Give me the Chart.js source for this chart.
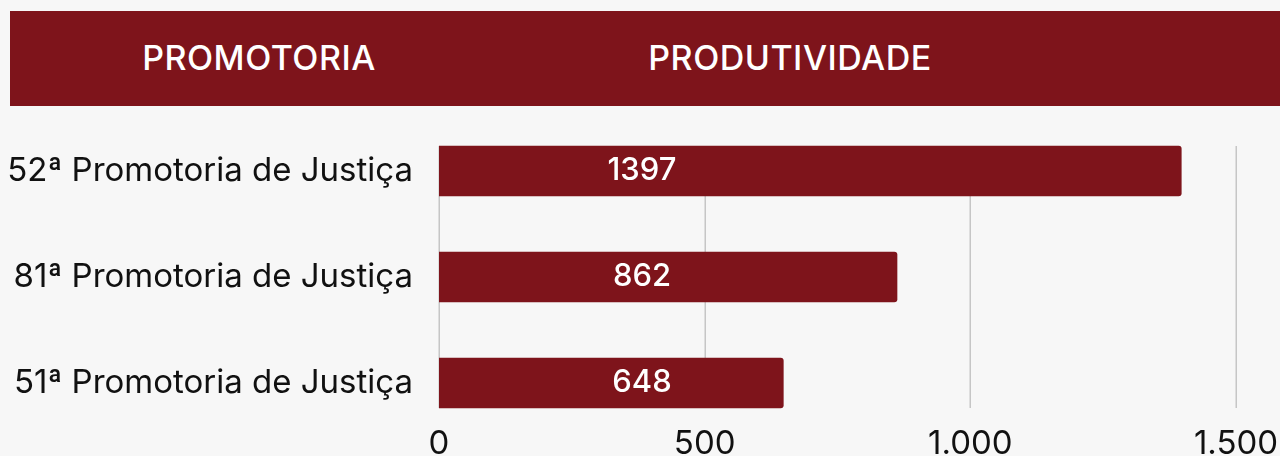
<!DOCTYPE html>
<html>
<head>
<meta charset="utf-8">
<script src="https://cdn.jsdelivr.net/npm/chart.js@4"></script>
<style>
  html, body { margin:0; padding:0; background:#f7f7f7; width:1280px; height:456px; overflow:hidden; }
  #header { position:absolute; left:10px; top:11px; width:1270px; height:95px; background:#7e141b; }
  #header span { position:absolute; top:46px; transform:translate(-50%,-50%); color:#fff; font-family:Inter, sans-serif; font-size:34px; font-weight:500; white-space:nowrap; letter-spacing:0.5px; }
  #wrap { position:absolute; left:0; top:0; width:1280px; height:456px; }
</style>
</head>
<body>
<div id="wrap"><canvas id="c"></canvas></div>
<div id="header"><span style="left:249px">PROMOTORIA</span><span style="left:780px">PRODUTIVIDADE</span></div>
<script>
const categories = ["52ª Promotoria de Justiça", "81ª Promotoria de Justiça", "51ª Promotoria de Justiça"];
const values = [1397, 862, 648];
const tickValues = [0, 500, 1000, 1500];
const tickLabels = ["0", "500", "1.000", "1.500"];

const BAR = '#7e141b';
const FONT = 'Inter, sans-serif';

const noClipPlugin = {
  id: 'noLabelClip',
  beforeDraw(chart) {
    Object.values(chart.scales).forEach(s => { s._computeLabelArea = () => undefined; });
  }
};

const gridPlugin = {
  id: 'partialGrid',
  beforeDatasetsDraw(chart) {
    const meta = chart.getDatasetMeta(0);
    const first = meta.data[0], last = meta.data[meta.data.length - 1];
    const top = first.y - first.height / 2;
    const bottom = last.y + last.height / 2;
    const x = chart.scales.x;
    const ctx = chart.ctx;
    ctx.save();
    ctx.strokeStyle = '#c6c6c6';
    ctx.lineWidth = 1.5;
    tickValues.forEach(v => {
      const px = Math.round(x.getPixelForValue(v)) + 0.25;
      ctx.beginPath(); ctx.moveTo(px, top); ctx.lineTo(px, bottom); ctx.stroke();
    });
    ctx.restore();
  }
};

const labelPlugin = {
  id: 'valueLabels',
  afterDatasetsDraw(chart) {
    const meta = chart.getDatasetMeta(0);
    const ctx = chart.ctx;
    const x = chart.scales.x.getPixelForValue(382);
    ctx.save();
    ctx.fillStyle = '#ffffff';
    ctx.font = '500 31px ' + FONT;
    ctx.textAlign = 'center';
    ctx.textBaseline = 'middle';
    meta.data.forEach((bar, i) => {
      ctx.fillText(String(values[i]), x, bar.y);
    });
    ctx.restore();
  }
};

new Chart(document.getElementById('c'), {
  type: 'bar',
  data: {
    labels: categories,
    datasets: [{
      data: values,
      backgroundColor: BAR,
      borderRadius: 3,
      borderSkipped: 'start',
      barThickness: 50
    }]
  },
  options: {
    indexAxis: 'y',
    responsive: true,
    maintainAspectRatio: false,
    animation: false,
    layout: { padding: { top: 118, right: 44, bottom: 0, left: 0 } },
    plugins: { legend: { display: false }, tooltip: { enabled: false } },
    scales: {
      x: {
        min: 0, max: 1500,
        afterBuildTicks(scale) { scale.ticks = tickValues.map(v => ({ value: v })); },
        afterFit(scale) { scale.height = 20; },
        grid: { display: false, drawTicks: false },
        border: { display: false },
        ticks: {
          padding: -12,
          color: '#111',
          font: { family: FONT, size: 33 },
          maxRotation: 0,
          callback: (v, i) => tickLabels[i]
        }
      },
      y: {
        afterFit(scale) { scale.width = 439; },
        grid: { display: false, drawTicks: true, tickLength: 26, tickColor: 'rgba(0,0,0,0)' },
        border: { display: false },
        ticks: {
          padding: 0,
          color: '#111',
          font: { family: FONT, size: 33 }
        }
      }
    }
  },
  plugins: [noClipPlugin, gridPlugin, labelPlugin]
});
</script>
</body>
</html>
